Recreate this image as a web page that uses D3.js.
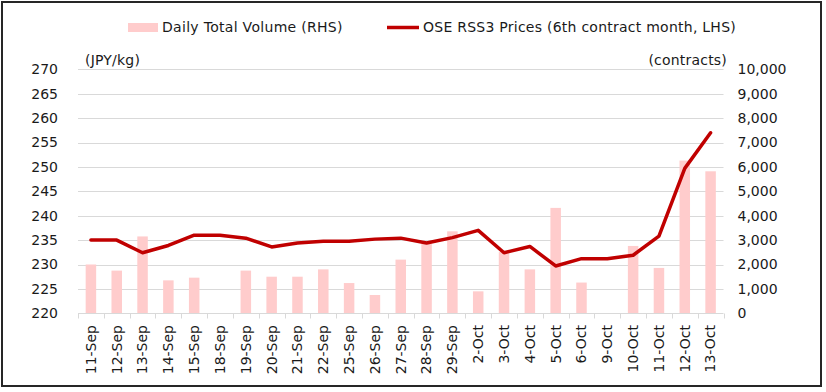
<!DOCTYPE html>
<html><head><meta charset="utf-8">
<script src="https://cdn.jsdelivr.net/npm/d3@7"></script>
<style>
body{margin:0;background:#fff;}
svg{display:block;font-family:"DejaVu Sans",Verdana,sans-serif;}
</style></head><body>
<svg id="c" width="826" height="392"></svg>
<script>
const categories = ["11-Sep","12-Sep","13-Sep","14-Sep","15-Sep","18-Sep","19-Sep","20-Sep","21-Sep","22-Sep","25-Sep","26-Sep","27-Sep","28-Sep","29-Sep","2-Oct","3-Oct","4-Oct","5-Oct","6-Oct","9-Oct","10-Oct","11-Oct","12-Oct","13-Oct"];
const volume = [2000,1750,3150,1350,1460,0,1750,1500,1500,1800,1240,750,2200,2860,3360,900,2510,1800,4320,1260,0,2760,1860,6260,5820];
const price = [235,235,232.4,233.9,236,236,235.4,233.6,234.4,234.75,234.75,235.2,235.4,234.4,235.5,237,232.4,233.7,229.7,231.2,231.2,231.9,235.8,249.7,257];
const leftTicks = [220,225,230,235,240,245,250,255,260,265,270];
const rightTicks = [0,1000,2000,3000,4000,5000,6000,7000,8000,9000,10000];

const svg = d3.select("#c");
const L = 78, R = 723.5, T = 69.3, B = 313.3;
const x = d3.scaleBand().domain(categories).range([L, R]).padding(0);
const yL = d3.scaleLinear().domain([220, 270]).range([B, T]);
const yR = d3.scaleLinear().domain([0, 10000]).range([B, T]);
const fmt = d3.format(",");

// border
svg.append("rect").attr("x",2).attr("y",2).attr("width",819).attr("height",384)
  .attr("fill","none").attr("stroke","#262626").attr("stroke-width",2);

// gridlines
svg.append("g").selectAll("line").data(leftTicks.slice(1)).join("line")
  .attr("x1",L).attr("x2",R).attr("y1",d=>Math.round(yL(d))+0.5).attr("y2",d=>Math.round(yL(d))+0.5)
  .attr("stroke","#d9d9d9").attr("stroke-width",1);

// bars
const bw = x.bandwidth();
const barW = 10.5;
svg.append("g").selectAll("rect").data(categories).join("rect")
  .attr("x",(d)=>x(d)+bw/2-barW/2)
  .attr("width",barW)
  .attr("y",(d,i)=>yR(volume[i]))
  .attr("height",(d,i)=>B-yR(volume[i]))
  .attr("fill","#ffcccc");

// bottom axis
const gx = svg.append("g").attr("transform",`translate(0,${Math.round(B)+0.5})`)
  .call(d3.axisBottom(x).tickSize(0).tickFormat(""));
gx.select(".domain").attr("stroke","#d9d9d9").attr("d",`M${L},0H${R}`);
const bounds = categories.map(c=>x(c)).concat([R]);
gx.selectAll(".bt").data(bounds).join("line").attr("class","bt")
  .attr("x1",d=>Math.round(d)+0.5).attr("x2",d=>Math.round(d)+0.5).attr("y1",0).attr("y2",5)
  .attr("stroke","#d9d9d9");
svg.append("g").selectAll("text").data(categories).join("text")
  .attr("transform",d=>`translate(${x(d)+bw/2},325) rotate(-90)`)
  .attr("text-anchor","end").attr("dy","0.35em")
  .attr("font-size",14).attr("fill","#1a1a1a").text(d=>d);

// left axis
const gl = svg.append("g").attr("transform",`translate(${L},0)`)
  .call(d3.axisLeft(yL).tickValues(leftTicks).tickSize(0).tickPadding(20));
gl.select(".domain").remove();
gl.selectAll("text").attr("font-size",14).attr("fill","#1a1a1a").attr("font-family","DejaVu Sans");

// right axis
const gr = svg.append("g").attr("transform",`translate(${R},0)`)
  .call(d3.axisRight(yR).tickValues(rightTicks).tickSize(0).tickPadding(14).tickFormat(fmt));
gr.select(".domain").remove();
gr.selectAll("text").attr("font-size",14).attr("fill","#1a1a1a").attr("font-family","DejaVu Sans");

// price line
svg.append("path").datum(price)
  .attr("d", d3.line().x((d,i)=>x(categories[i])+bw/2).y(d=>yL(d)))
  .attr("fill","none").attr("stroke","#c00000").attr("stroke-width",3.5)
  .attr("stroke-linejoin","round").attr("stroke-linecap","round");

// unit labels
svg.append("text").attr("x",85).attr("y",65).attr("font-size",14).attr("fill","#1a1a1a").attr("letter-spacing",0.2).text("(JPY/kg)");
svg.append("text").attr("x",727).attr("y",65).attr("text-anchor","end").attr("font-size",14).attr("fill","#1a1a1a").attr("letter-spacing",0.2).text("(contracts)");

// legend
const lg = svg.append("g");
lg.append("rect").attr("x",128).attr("y",23).attr("width",30).attr("height",9).attr("fill","#ffcccc");
lg.append("text").attr("x",162).attr("y",27).attr("dy","0.35em").attr("font-size",14).attr("fill","#1a1a1a").attr("letter-spacing",0.3).text("Daily Total Volume (RHS)");
lg.append("line").attr("x1",387).attr("x2",419).attr("y1",27.5).attr("y2",27.5).attr("stroke","#c00000").attr("stroke-width",3.5);
lg.append("text").attr("x",423).attr("y",27).attr("dy","0.35em").attr("font-size",14).attr("fill","#1a1a1a").attr("letter-spacing",0.25).text("OSE RSS3 Prices (6th contract month, LHS)");
</script>
</body></html>
